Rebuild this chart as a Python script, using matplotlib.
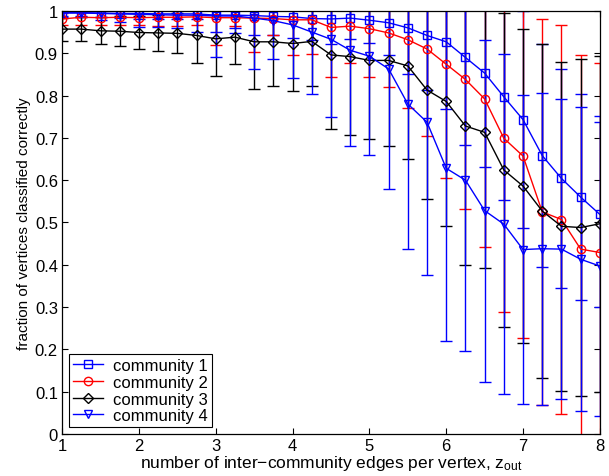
import numpy as np
import matplotlib
matplotlib.use("Agg")
import matplotlib.pyplot as plt

plt.rcParams["font.family"] = ["Liberation Sans", "DejaVu Sans"]
plt.rcParams["mathtext.fontset"] = "custom"
plt.rcParams["mathtext.rm"] = "Liberation Sans"
plt.rcParams["mathtext.it"] = "Liberation Sans"

# ---- data ------------------------------------------------------------------
z_out = np.arange(1.0, 8.01, 0.25)

comm1 = [0.996, 0.996, 0.995, 0.994, 0.994, 0.993, 0.993, 0.993, 0.990, 0.990,
         0.989, 0.987, 0.986, 0.982, 0.981, 0.983, 0.978, 0.972, 0.960, 0.942,
         0.927, 0.890, 0.853, 0.797, 0.743, 0.658, 0.604, 0.560, 0.519]
err1 = [0.008, 0.008, 0.010, 0.010, 0.012, 0.012, 0.012, 0.012, 0.040, 0.030,
        0.047, 0.045, 0.050, 0.050, 0.060, 0.050, 0.054, 0.075, 0.110, 0.130,
        0.159, 0.207, 0.223, 0.244, 0.257, 0.263, 0.258, 0.243, 0.219]

comm2 = [0.981, 0.985, 0.984, 0.985, 0.984, 0.985, 0.985, 0.986, 0.984, 0.984,
         0.983, 0.982, 0.979, 0.979, 0.961, 0.964, 0.958, 0.948, 0.932, 0.910,
         0.874, 0.838, 0.792, 0.699, 0.657, 0.525, 0.507, 0.437, 0.429]
err2 = [0.015, 0.018, 0.018, 0.018, 0.018, 0.020, 0.020, 0.020, 0.065, 0.020,
        0.079, 0.040, 0.084, 0.081, 0.116, 0.087, 0.114, 0.128, 0.162, 0.206,
        0.268, 0.306, 0.350, 0.411, 0.430, 0.456, 0.460, 0.458, 0.449]

comm3 = [0.957, 0.957, 0.953, 0.952, 0.949, 0.948, 0.947, 0.942, 0.934, 0.938,
         0.927, 0.927, 0.923, 0.928, 0.896, 0.892, 0.883, 0.883, 0.870, 0.813,
         0.786, 0.728, 0.713, 0.624, 0.586, 0.527, 0.491, 0.488, 0.497]
err3 = [0.027, 0.029, 0.032, 0.036, 0.040, 0.043, 0.047, 0.064, 0.087, 0.064,
        0.112, 0.104, 0.112, 0.105, 0.175, 0.185, 0.185, 0.202, 0.220, 0.258,
        0.294, 0.329, 0.320, 0.370, 0.372, 0.394, 0.389, 0.398, 0.397]

comm4 = [0.995, 0.995, 0.994, 0.993, 0.992, 0.991, 0.990, 0.990, 0.988, 0.988,
         0.983, 0.977, 0.967, 0.950, 0.933, 0.907, 0.893, 0.863, 0.780, 0.737,
         0.628, 0.600, 0.528, 0.496, 0.436, 0.438, 0.437, 0.413, 0.397]
err4 = [0.010, 0.010, 0.015, 0.020, 0.030, 0.030, 0.030, 0.040, 0.097, 0.040,
        0.120, 0.090, 0.125, 0.146, 0.184, 0.227, 0.234, 0.284, 0.343, 0.360,
        0.407, 0.403, 0.404, 0.402, 0.366, 0.369, 0.354, 0.359, 0.354]

labels = ["community 1", "community 2", "community 3", "community 4"]
x_ticks = [1, 2, 3, 4, 5, 6, 7, 8]
y_ticks = [0, 0.1, 0.2, 0.3, 0.4, 0.5, 0.6, 0.7, 0.8, 0.9, 1]
y_ticklabels = ["0", "0.1", "0.2", "0.3", "0.4", "0.5", "0.6", "0.7", "0.8", "0.9", "1"]

# ---- figure ----------------------------------------------------------------
fig = plt.figure(figsize=(6.09, 4.77), dpi=100)
ax = fig.add_axes([0.102, 0.088, 0.883, 0.887])

series = [
    (comm1, err1, "#0000ff", "s"),
    (comm2, err2, "#ff0000", "o"),
    (comm3, err3, "#000000", "D"),
    (comm4, err4, "#0000ff", "v"),
]
handles = []
for (vals, errs, col, mk), lab in zip(series, labels):
    ms = 5 if mk == "D" else 6
    cont = ax.errorbar(z_out, vals, yerr=errs, color=col, ecolor=col,
                       marker=mk, markersize=ms, markerfacecolor="none",
                       markeredgecolor=col, markeredgewidth=1.0,
                       linewidth=1.0, elinewidth=1.0, capsize=4.5,
                       capthick=1.0, label=lab)
    handles.append(cont[0])

ax.set_xlim(1, 8)
ax.set_ylim(0, 1)
ax.set_xticks(x_ticks)
ax.set_yticks(y_ticks)
ax.set_yticklabels(y_ticklabels)
ax.tick_params(direction="in", top=True, right=True, labelsize=12,
               length=4, width=0.8, pad=3)
for sp in ax.spines.values():
    sp.set_linewidth(0.9)

ax.set_xlabel(r"number of inter$-$community edges per vertex, z$_{\mathrm{out}}$",
              fontsize=12.5, labelpad=0)
ax.set_ylabel("fraction of vertices classified correctly", fontsize=11,
              labelpad=3)

leg = ax.legend(handles, labels, loc="lower left", fontsize=12,
                fancybox=False, framealpha=1, edgecolor="black",
                borderpad=0.25, labelspacing=0.1, handlelength=1.8,
                handletextpad=0.6, borderaxespad=0.4)
leg.get_frame().set_linewidth(0.8)

fig.savefig("out.png", dpi=100)
